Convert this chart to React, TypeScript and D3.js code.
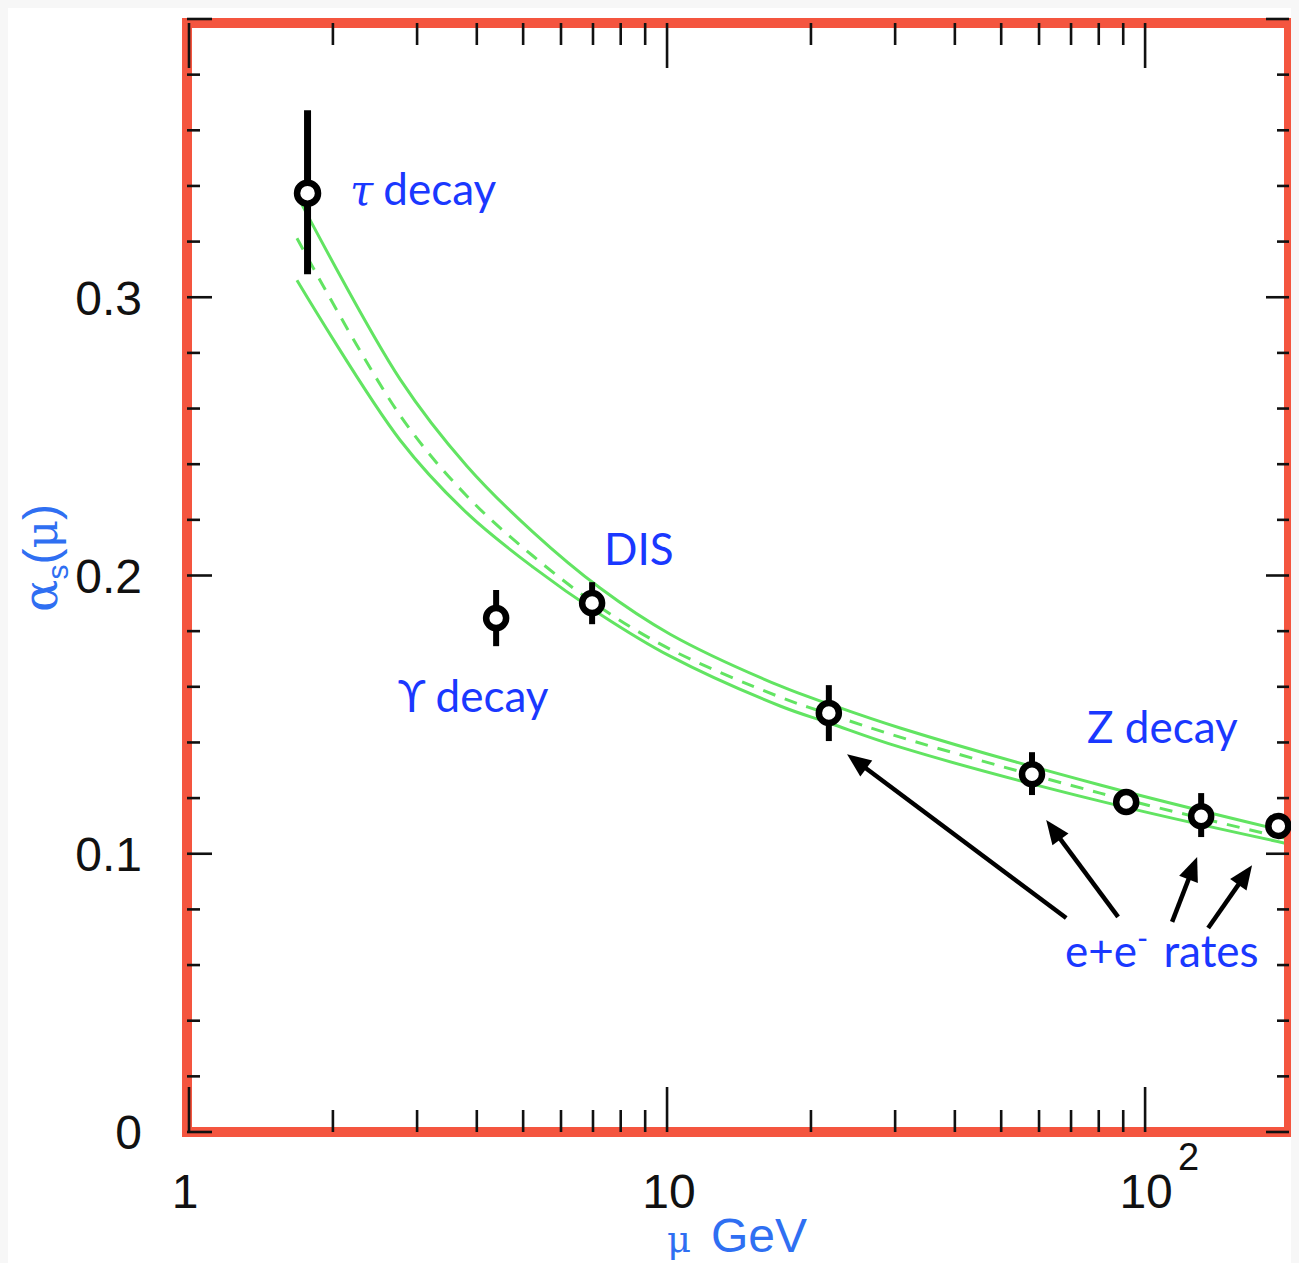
import React, { useEffect } from 'react';
import * as d3 from 'd3';

// ---------------- data ----------------
const X_DOMAIN: [number, number] = [1, 200];
const Y_DOMAIN: [number, number] = [0, 0.4];

const pointMu = [1.77, 4.39, 6.97, 21.8, 58.0, 91.3, 131, 190];
const pointAlpha = [0.3374, 0.1847, 0.1901, 0.1506, 0.1286, 0.1186, 0.1135, 0.11];
const pointLow = [0.3083, 0.1746, 0.1825, 0.1405, 0.1211, 0.1186, 0.106, 0.11];
const pointHigh = [0.3672, 0.1948, 0.1976, 0.1606, 0.1365, 0.1186, 0.1218, 0.11];
const pointBarWidth = [7, 6, 6, 6, 6, 6, 6, 6];

const bandMu = [1.682, 2.763, 3.816, 5.244, 7.242, 10.15, 17.24, 21.83, 30.73, 80.52, 196.3];
const upperAlpha = [0.3367, 0.2706, 0.2393, 0.2156, 0.1955, 0.1789, 0.1603, 0.1538, 0.1452, 0.1247, 0.1081];
const centralAlpha = [0.3212, 0.2576, 0.2285, 0.207, 0.1886, 0.1735, 0.1563, 0.1502, 0.1419, 0.1218, 0.1056];
const lowerAlpha = [0.3061, 0.2487, 0.2224, 0.203, 0.1861, 0.171, 0.1531, 0.147, 0.1383, 0.1189, 0.1038];

const majorXTicks = [1, 10, 100];
const minorXTicks = [2, 3, 4, 5, 6, 7, 8, 9, 20, 30, 40, 50, 60, 70, 80, 90];
const yTickValues = d3.range(0, 0.4001, 0.02);
const yTickLabels = ['0', '0.1', '0.2', '0.3'];
const yLabelValues = [0, 0.1, 0.2, 0.3];

// annotation arrows (tail -> tip)
const arrowTailMu = [68.4, 87.8, 113.9, 135.5];
const arrowTailAlpha = [0.0769, 0.0773, 0.0755, 0.0733];
const arrowTipMu = [23.8, 62.1, 128.5, 167.4];
const arrowTipAlpha = [0.1358, 0.1121, 0.0988, 0.0959];

const COLORS = {
  red: '#f4553f',
  green: '#62e462',
  note: '#1a38ff',
  title: '#2f6ff2',
  ink: '#111111',
};

export default function App() {
  useEffect(() => {
    document.body.style.background = '#f7f7f7';
  }, []);

  const x = d3.scaleLog().domain(X_DOMAIN).range([189, 1289]);
  const y = d3.scaleLinear().domain(Y_DOMAIN).range([1132, 19]);

  const lineGen = (vals: number[]) =>
    d3
      .line<number>()
      .x((_, i) => x(bandMu[i]))
      .y((d) => y(d))
      .curve(d3.curveCatmullRom.alpha(0.5))(vals) || '';

  const left = 187;
  const right = 1289;
  const top = 23;
  const bottom = 1132;

  const ticks: JSX.Element[] = [];
  const xt = (v: number, len: number, k: string) => {
    const px = x(v);
    ticks.push(<line key={'xb' + k} x1={px} x2={px} y1={bottom} y2={bottom - len} />);
    ticks.push(<line key={'xt' + k} x1={px} x2={px} y1={top} y2={top + len} />);
  };
  majorXTicks.forEach((v) => xt(v, 45, 'M' + v));
  minorXTicks.forEach((v) => xt(v, 22, 'm' + v));
  yTickValues.forEach((v, i) => {
    const major = i % 5 === 0;
    const py = y(v);
    ticks.push(<line key={'yl' + i} x1={left} x2={left + (major ? 25 : 13)} y1={py} y2={py} />);
    ticks.push(<line key={'yr' + i} x1={right - (major ? 23 : 12)} x2={right} y1={py} y2={py} />);
  });

  const arrows = arrowTailMu.map((_, i) => {
    const x1 = x(arrowTailMu[i]);
    const y1 = y(arrowTailAlpha[i]);
    const x2 = x(arrowTipMu[i]);
    const y2 = y(arrowTipAlpha[i]);
    const ang = Math.atan2(y2 - y1, x2 - x1);
    const hl = 24;
    const hw = 10;
    const bx = x2 - hl * Math.cos(ang);
    const by = y2 - hl * Math.sin(ang);
    const nx = -Math.sin(ang);
    const ny = Math.cos(ang);
    const pts = `${x2},${y2} ${bx + hw * nx},${by + hw * ny} ${bx - hw * nx},${by - hw * ny}`;
    return (
      <g key={'ar' + i}>
        <line x1={x1} y1={y1} x2={bx + 3 * Math.cos(ang)} y2={by + 3 * Math.sin(ang)} stroke="#000" strokeWidth={4.5} />
        <polygon points={pts} fill="#000" />
      </g>
    );
  });

  const noteFont = 'Lato, "Open Sans", sans-serif';
  const numFont = '"Liberation Sans", Arial, sans-serif';
  const serif = '"DejaVu Serif", serif';

  return (
    <svg width={1291} height={1255} style={{ display: 'block', background: '#fff' }}>
      <g transform="translate(-8,-8)">
        {/* band */}
        <g fill="none" stroke={COLORS.green} strokeWidth={3}>
          <path d={lineGen(upperAlpha)} />
          <path d={lineGen(lowerAlpha)} />
          <path d={lineGen(centralAlpha)} strokeDasharray="13 10" />
        </g>

        {/* frame */}
        <rect x={left} y={top} width={right - left} height={bottom - top} fill="none" stroke={COLORS.red} strokeWidth={10} />

        <g stroke="#111" strokeWidth={2.6}>{ticks}</g>

        {/* y tick labels */}
        <g fontFamily={numFont} fontSize={48} fill={COLORS.ink} textAnchor="end">
          {yLabelValues.map((v, i) => (
            <text key={'yl' + i} x={142} y={y(v)} dy="0.36em">
              {yTickLabels[i]}
            </text>
          ))}
        </g>

        {/* x tick labels */}
        <g fontFamily={numFont} fontSize={48} fill={COLORS.ink}>
          <text x={x(1) - 4} y={1208} textAnchor="middle">1</text>
          <text x={x(10) + 2} y={1208} textAnchor="middle">10</text>
          <text x={x(100) + 1} y={1208} textAnchor="middle">10</text>
          <text x={x(100) + 33} y={1170} fontSize={38}>2</text>
        </g>

        {/* axis titles */}
        <text x={667} y={1252} fill={COLORS.title} fontFamily={serif} fontSize={37}>μ</text>
        <text x={711} y={1252} fill={COLORS.title} fontFamily={numFont} fontSize={48}>GeV</text>

        <text transform="translate(57,612) rotate(-90)" fill={COLORS.title}>
          <tspan fontFamily={serif} fontSize={48}>α</tspan>
          <tspan fontFamily={numFont} fontSize={30} dy={11}>s</tspan>
          <tspan fontFamily={numFont} fontSize={48} dy={-11}>(</tspan>
          <tspan fontFamily={serif} fontSize={44}>μ</tspan>
          <tspan fontFamily={numFont} fontSize={48}>)</tspan>
        </text>

        {/* arrows */}
        {arrows}

        {/* data points */}
        <g>
          {pointMu.map((m, i) => (
            <line
              key={'eb' + i}
              x1={x(m)}
              x2={x(m)}
              y1={y(pointLow[i])}
              y2={y(pointHigh[i])}
              stroke="#000"
              strokeWidth={pointBarWidth[i]}
            />
          ))}
          {pointMu.map((m, i) => (
            <circle key={'pt' + i} cx={x(m)} cy={y(pointAlpha[i])} r={i === 0 ? 10.5 : 10} fill="#fff" stroke="#000" strokeWidth={6.5} />
          ))}
        </g>

        {/* annotations */}
        <g fontFamily={noteFont} fontSize={44} fill={COLORS.note}>
          <text x={x(2.172)} y={y(0.3331)}>
            <tspan fontFamily={serif} fontStyle="italic" fontSize={42}>τ</tspan>
            <tspan dx={10}>decay</tspan>
          </text>
          <text x={x(7.38)} y={y(0.2037)}>DIS</text>
          <text x={x(2.736)} y={y(0.1509)}>
            <tspan>ϒ</tspan>
            <tspan dx={10}>decay</tspan>
          </text>
          <text x={x(75.6)} y={y(0.1398)}>Z decay</text>
          <text x={x(68.0)} y={y(0.0593)}>
            e+e
            <tspan fontSize={30} dy={-18}>-</tspan>
            <tspan dy={18} dx={4}> rates</tspan>
          </text>
        </g>
      </g>
    </svg>
  );
}
